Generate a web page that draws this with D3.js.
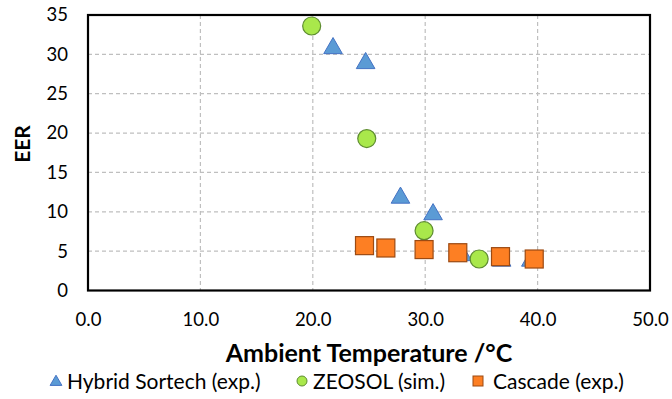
<!DOCTYPE html>
<html>
<head>
<meta charset="utf-8">
<script src="https://cdn.jsdelivr.net/npm/d3@7"></script>
<style>
  body { margin: 0; background: #fff; }
  text { font-family: Lato, "Open Sans", sans-serif; fill: #000; }
</style>
</head>
<body>
<div id="chart"></div>
<script>
// values
const hybridSortech = [
  [21.8, 30.9], [24.7, 29.0], [27.8, 11.9], [30.7, 9.8],
  [33.3, 4.6], [36.8, 3.9], [39.4, 3.9]
];
const zeosol = [[19.9, 33.6], [24.8, 19.3], [29.9, 7.6], [34.8, 4.0]];
const cascade = [
  [24.6, 5.7], [26.5, 5.4], [29.9, 5.2], [32.9, 4.8], [36.7, 4.3], [39.7, 4.0]
];
const xTicks = [0, 10, 20, 30, 40, 50];
const yTicks = [0, 5, 10, 15, 20, 25, 30, 35];
const seriesNames = ['Hybrid Sortech (exp.)', 'ZEOSOL (sim.)', 'Cascade (exp.)'];

const width = 672, height = 399;
const margin = { top: 15, right: 22, bottom: 108.5, left: 88 };
const w = width - margin.left - margin.right;
const h = height - margin.top - margin.bottom;

const svg = d3.select('#chart').append('svg')
  .attr('width', width)
  .attr('height', height);

const g = svg.append('g')
  .attr('transform', 'translate(' + margin.left + ',' + margin.top + ')');

const x = d3.scaleLinear().domain([0, 50]).range([0, w]);
const y = d3.scaleLinear().domain([0, 35]).range([h, 0]);

// grid
g.append('g').selectAll('line.gx')
  .data(xTicks.slice(1, -1)).enter().append('line')
  .attr('x1', d => x(d)).attr('x2', d => x(d))
  .attr('y1', 0).attr('y2', h)
  .attr('stroke', '#bfbfbf').attr('stroke-width', 1.2)
  .attr('stroke-dasharray', '4,3');

g.append('g').selectAll('line.gy')
  .data(yTicks.slice(1, -1)).enter().append('line')
  .attr('x1', 0).attr('x2', w)
  .attr('y1', d => y(d)).attr('y2', d => y(d))
  .attr('stroke', '#bfbfbf').attr('stroke-width', 1.2)
  .attr('stroke-dasharray', '4,3');

// axes (labels only, frame drawn separately)
const xAxis = g.append('g')
  .attr('transform', 'translate(0,' + h + ')')
  .call(d3.axisBottom(x).tickValues(xTicks).tickFormat(d3.format('.1f')).tickSize(0).tickPadding(22));
xAxis.select('.domain').remove();
xAxis.selectAll('text').style('font-size', '18.5px').style('font-family', 'Lato, sans-serif');

const yAxis = g.append('g')
  .call(d3.axisLeft(y).tickValues(yTicks).tickSize(0).tickPadding(20));
yAxis.select('.domain').remove();
yAxis.selectAll('text').style('font-size', '18.5px').style('font-family', 'Lato, sans-serif');

// plot frame
g.append('rect')
  .attr('x', 0).attr('y', 0).attr('width', w).attr('height', h)
  .attr('fill', 'none').attr('stroke', '#000').attr('stroke-width', 2.2);

// markers
const tri = d3.symbol().type(d3.symbolTriangle).size(150);

g.append('g').selectAll('path')
  .data(hybridSortech).enter().append('path')
  .attr('d', tri)
  .attr('transform', d => 'translate(' + x(d[0]) + ',' + (y(d[1]) + 1) + ')')
  .attr('fill', '#5b9bd5').attr('stroke', '#4472c4').attr('stroke-width', 1);

g.append('g').selectAll('circle')
  .data(zeosol).enter().append('circle')
  .attr('cx', d => x(d[0])).attr('cy', d => y(d[1]))
  .attr('r', 9)
  .attr('fill', '#a9e84b').attr('stroke', '#5e8c31').attr('stroke-width', 1.2);

g.append('g').selectAll('rect')
  .data(cascade).enter().append('rect')
  .attr('x', d => x(d[0]) - 9).attr('y', d => y(d[1]) - 9)
  .attr('width', 18).attr('height', 18)
  .attr('fill', '#fd7f23').attr('stroke', '#9c4a12').attr('stroke-width', 1.2);

// axis titles
svg.append('text')
  .attr('x', margin.left + w / 2).attr('y', 362)
  .attr('text-anchor', 'middle')
  .style('font-size', '25px').style('font-weight', 'bold')
  .text('Ambient Temperature /°C');

svg.append('text')
  .attr('transform', 'translate(30,144) rotate(-90)')
  .attr('text-anchor', 'middle')
  .style('font-size', '21px').style('font-weight', 'bold')
  .text('EER');

// legend
const legend = svg.append('g').attr('transform', 'translate(0,381)');
const legX = [56, 302, 478];
const legTextX = [67, 313, 493];

legend.append('path')
  .attr('d', d3.symbol().type(d3.symbolTriangle).size(60))
  .attr('transform', 'translate(' + legX[0] + ',1)')
  .attr('fill', '#5b9bd5').attr('stroke', '#4472c4');
legend.append('circle')
  .attr('cx', legX[1]).attr('cy', 0).attr('r', 5)
  .attr('fill', '#a9e84b').attr('stroke', '#5e8c31');
legend.append('rect')
  .attr('x', legX[2] - 5).attr('y', -5).attr('width', 10).attr('height', 10)
  .attr('fill', '#fd7f23').attr('stroke', '#9c4a12');

legend.selectAll('text.leg')
  .data(seriesNames).enter().append('text')
  .attr('x', (d, i) => legTextX[i])
  .attr('y', 7.5)
  .style('font-size', '21px')
  .text(d => d);
</script>
</body>
</html>
